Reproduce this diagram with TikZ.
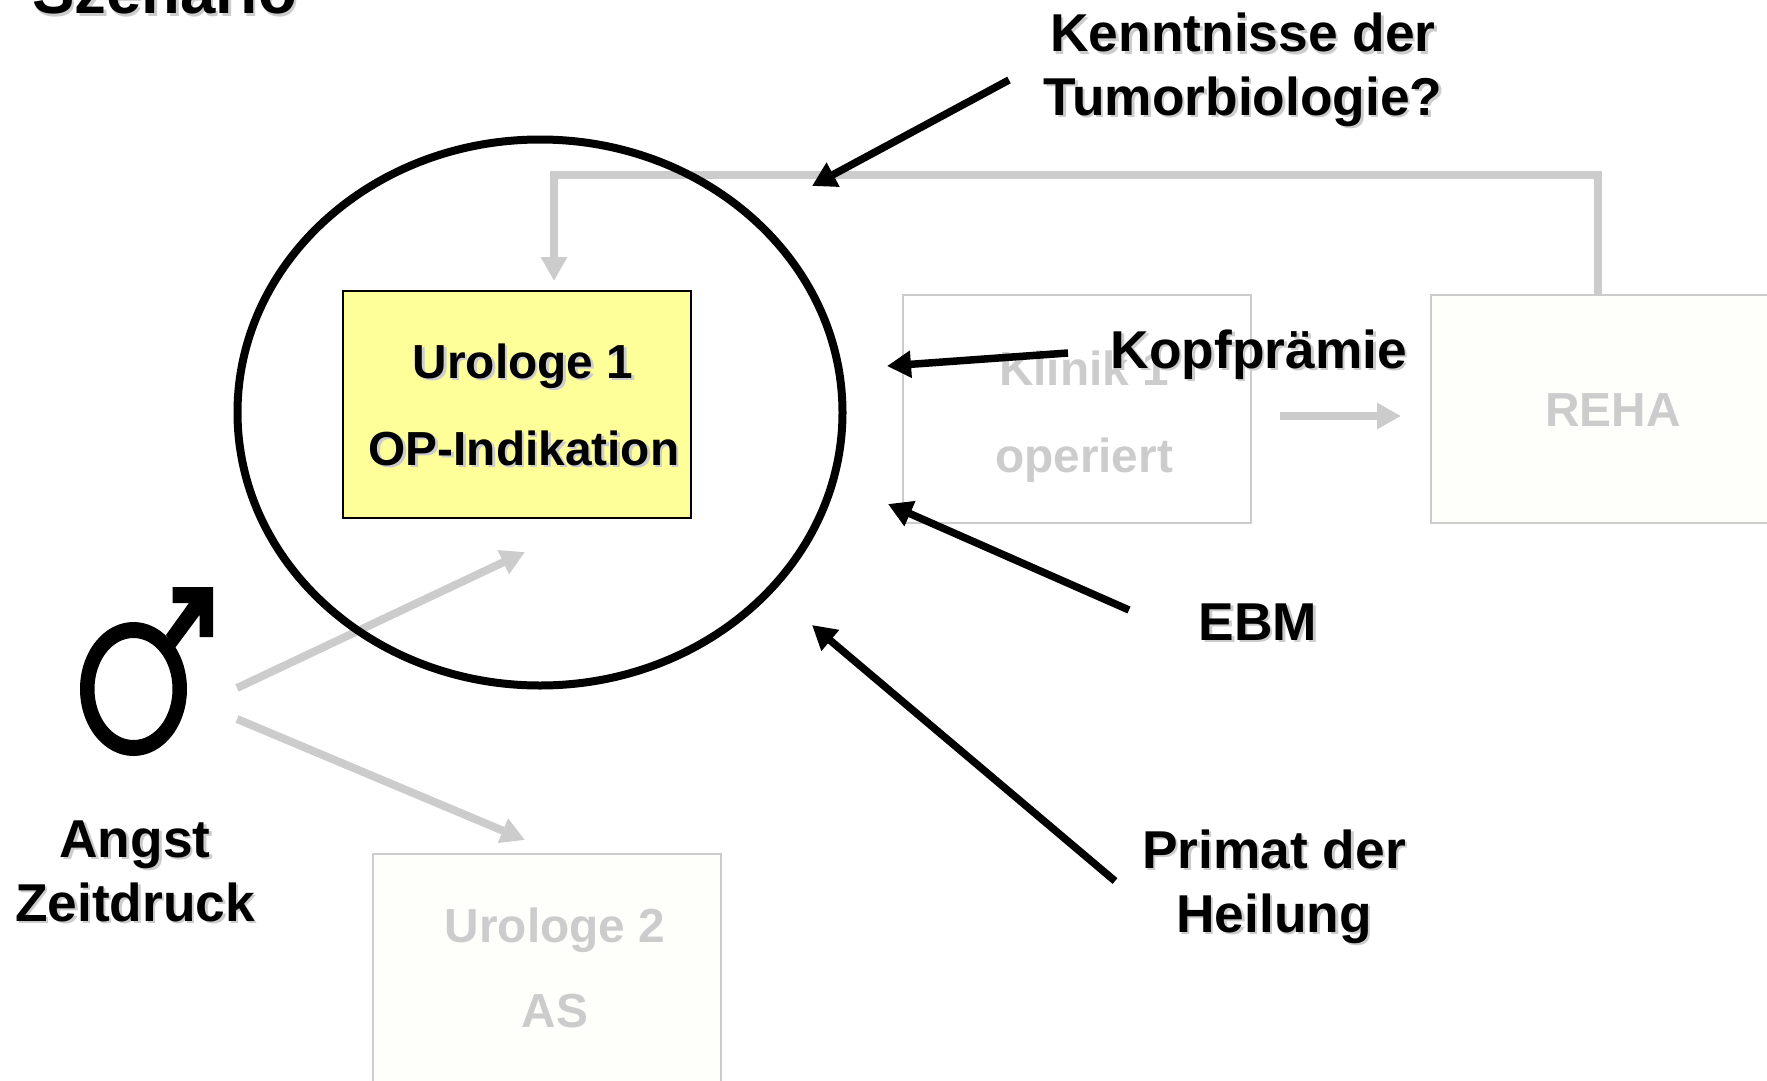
\documentclass[tikz,border=0pt]{standalone}
\usepackage{fontspec}
\setmainfont{Liberation Sans}
\usetikzlibrary{arrows.meta,shapes.geometric}
\definecolor{fadegray}{HTML}{CCCCCC}
\definecolor{boxyellow}{HTML}{FFFF99}
\definecolor{boxcream}{HTML}{FEFEFA}
\newcommand{\shd}[1]{\leavevmode\rlap{\hspace{2.5pt}\raisebox{-2.5pt}{\textcolor{fadegray}{#1}}}#1}
\tikzset{
  lbl/.style={font=\fontsize{53.3}{64}\selectfont\bfseries,align=center,inner sep=0pt,anchor=base},
  innerlbl/.style={lbl,font=\fontsize{47.8}{64}\selectfont\bfseries},
  fadelbl/.style={innerlbl,text=fadegray},
  fadebox/.style={draw=fadegray,line width=2pt,fill=boxcream,inner sep=0pt,minimum width=348pt,minimum height=228pt},
  blackarrow/.style={draw=black,line width=7.5pt,-{Triangle[length=24pt,width=26pt]}},
  fadearrow/.style={draw=fadegray,line width=8pt,-{Triangle[length=24pt,width=25pt]}}
}
\begin{document}
\begin{tikzpicture}
            [x=1pt,y=-1pt]
            \useasboundingbox (0,0) rectangle (1767,1081);
            % grey boxes
            \node[fadebox,fill=white] (klinik) at (1077,409) {};
            \node[fadebox] (reha) at (1605,409) {};
            \node[fadebox] (uro2) at (547,968) {};
            \node[fadelbl] (klinikTxt) at (1084,385) {Klinik 1};
            \node[fadelbl] (klinikOp) at (1084,472) {operiert};
            \node[fadelbl] (rehaTxt) at (1613,426) {REHA};
            \node[fadelbl] (uro2Txt) at (555,942) {Urologe 2};
            \node[fadelbl] (uro2As) at (555,1027) {AS};
            % grey arrows
            \coordinate (manUp) at (237,688);
            \coordinate (manDown) at (237,719);
            \coordinate (uroUp) at (525,552);
            \coordinate (uroDown) at (525,840);
            \coordinate (klinikOut) at (1280,416);
            \coordinate (rehaIn) at (1401,416);
            \coordinate (rehaTop) at (1598,295);
            \coordinate (uro1In) at (554,281);
            \foreach \from/\to in {manUp/uroUp,manDown/uroDown,klinikOut/rehaIn}
            \draw[fadearrow] (\from) -- (\to);
            \draw[fadearrow] (rehaTop) |- (uro1In |- 0,175) -- (uro1In);
            % urologe 1
            \node[draw=black,line width=1.5pt,fill=boxyellow,minimum width=348pt,minimum height=227pt] (uro1) at (517,404.5) {};
            \node[innerlbl] (uro1Txt) at (523,378) {\shd{Urologe 1}};
            \node[innerlbl] (uro1Op) at (524,465) {\shd{OP-Indikation}};
            \node[draw=black,line width=8pt,ellipse,inner sep=0pt,minimum width=605pt,minimum height=546pt] (circ) at (540,412.5) {};
            % labels
            \node[lbl,font=\fontsize{63.5}{70}\selectfont\bfseries,anchor=base west] (title) at (32,14) {\shd{Szenario}};
            \node[lbl] (kennt1) at (1243,52) {\shd{Kenntnisse der}};
            \node[lbl] (kennt2) at (1243,115) {\shd{Tumorbiologie?}};
            \node[lbl] (kopf) at (1259,368) {\shd{Kopfprämie}};
            \node[lbl] (ebm) at (1258,640) {\shd{EBM}};
            \node[lbl] (primat1) at (1274,868) {\shd{Primat der}};
            \node[lbl] (primat2) at (1274,932) {\shd{Heilung}};
            \node[lbl] (angst) at (135,857) {\shd{Angst}};
            \node[lbl] (zeit) at (135,921) {\shd{Zeitdruck}};
            % black arrows
            \coordinate (kenntOut) at (1009,80);
            \coordinate (kenntIn) at (812,186);
            \coordinate (kopfOut) at (1068,353);
            \coordinate (kopfIn) at (887,366);
            \coordinate (ebmOut) at (1129,610);
            \coordinate (ebmIn) at (888,504);
            \coordinate (primatOut) at (1115,881);
            \coordinate (primatIn) at (812,625);
            \foreach \from/\to in {kenntOut/kenntIn,kopfOut/kopfIn,ebmOut/ebmIn,primatOut/primatIn}
            \draw[blackarrow] (\from) -- (\to);
            % male sign
            \fill[even odd rule] (133.5,689) ellipse (53.5 and 67) (133.5,689) ellipse (39 and 51);
            \fill (172.5,587) -- (213,587) -- (213,637) -- (199.5,637) -- (199.5,615) -- (175,648) -- (166,635) -- (189,603) -- (172.5,603) -- cycle;
        \end{tikzpicture}
\end{document}
